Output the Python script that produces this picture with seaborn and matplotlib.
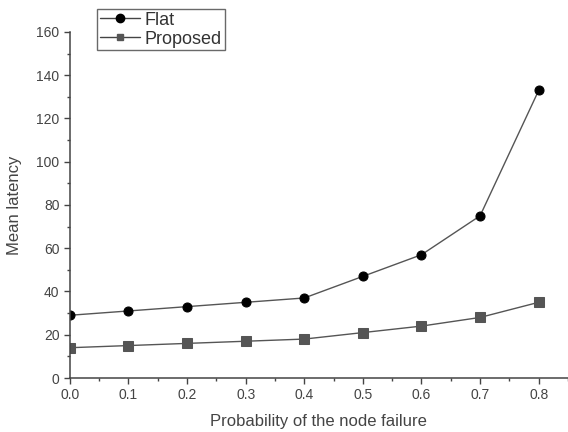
import matplotlib
matplotlib.use("Agg")
import matplotlib.pyplot as plt
import seaborn as sns
import pandas as pd
from matplotlib.ticker import MultipleLocator
from matplotlib.lines import Line2D

prob = [0.0, 0.1, 0.2, 0.3, 0.4, 0.5, 0.6, 0.7, 0.8]
flat = [29, 31, 33, 35, 37, 47, 57, 75, 133]
proposed = [14, 15, 16, 17, 18, 21, 24, 28, 35]

df = pd.DataFrame({
    "p": prob * 2,
    "latency": flat + proposed,
    "series": ["Flat"] * len(prob) + ["Proposed"] * len(prob),
})

sns.set_style("ticks")
plt.rcParams['font.family'] = ['Liberation Sans', 'DejaVu Sans']

fig = plt.figure(figsize=(5.68, 4.32), dpi=100)
ax = fig.add_axes([0.123, 0.125, 0.877, 0.801])

sns.lineplot(data=df, x="p", y="latency", hue="series", style="series",
             markers={"Flat": "o", "Proposed": "s"}, dashes=False,
             palette={"Flat": "#111111", "Proposed": "#555555"},
             markersize=6.5, linewidth=1.0, ax=ax, legend=False)
for line, mc in zip(ax.lines, ["#000000", "#555555"]):
    line.set_color("#555555")
    line.set_markerfacecolor(mc)
    line.set_markeredgecolor(mc)

ax.set_xlim(0, 0.85)
ax.set_ylim(0, 160)
ax.xaxis.set_minor_locator(MultipleLocator(0.05))
ax.yaxis.set_major_locator(MultipleLocator(20))
ax.yaxis.set_minor_locator(MultipleLocator(10))
ax.set_xticks(prob)
ax.set_xticklabels([f"{v:.1f}" for v in prob])
ax.tick_params(axis="both", which="major", direction="out", length=4, width=1,
               labelsize=10, labelcolor="#444444", color="#444444")
ax.tick_params(axis="both", which="minor", direction="out", length=2.5, width=1,
               color="#444444")
for s in ["top", "right"]:
    ax.spines[s].set_visible(False)
for s in ["left", "bottom"]:
    ax.spines[s].set_color("#444444")
    ax.spines[s].set_linewidth(1.1)

ax.set_xlabel("Probability of the node failure", fontsize=12, color="#444444", labelpad=8)
ax.set_ylabel("Mean latency", fontsize=12, color="#444444", labelpad=10)

handles = [
    Line2D([], [], color="#444444", marker="o", markersize=6, markerfacecolor="#000000",
           markeredgecolor="#000000", linewidth=1.0),
    Line2D([], [], color="#444444", marker="s", markersize=5, markerfacecolor="#555555",
           markeredgecolor="#555555", linewidth=1.0),
]
leg = fig.legend(handles, ["Flat", "Proposed"], loc="upper left",
                 bbox_to_anchor=(0.171, 0.979), frameon=True, fancybox=False,
                 edgecolor="#444444", fontsize=13, handlelength=2.2,
                 borderpad=0.15, labelspacing=0.1, handletextpad=0.3,
                 borderaxespad=0)
leg.get_frame().set_linewidth(1.0)
for t in leg.get_texts():
    t.set_color("#333333")

fig.savefig("out.png", dpi=100, facecolor="white")
